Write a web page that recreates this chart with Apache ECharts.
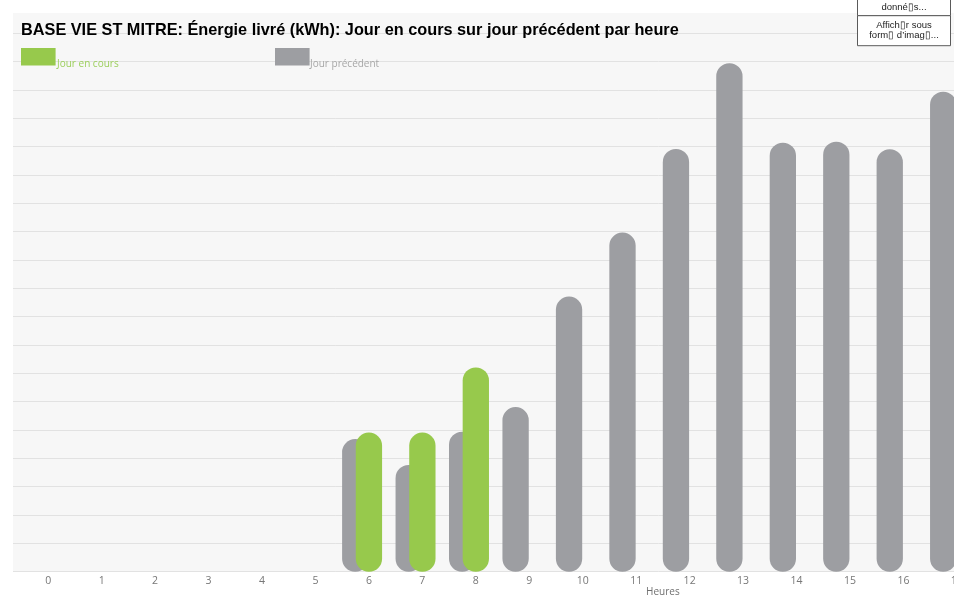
<!DOCTYPE html>
<html>
<head>
<meta charset="utf-8">
<script src="https://cdn.jsdelivr.net/npm/echarts@6/dist/echarts.min.js"></script>
<style>
  html, body { margin: 0; padding: 0; overflow: hidden; background: #fff; }
  #chart { width: 1320px; height: 596px; }
</style>
</head>
<body>
<div id="chart"></div>
<script>
// Hours of the day (x axis)
const hours = ['0','1','2','3','4','5','6','7','8','9','10','11','12','13','14','15','16','17','18','19','20','21','22','23'];

// Energy delivered per hour (kWh)
const jourPrecedent = [0, 0, 0, 0, 0, 0, 4.68, 3.77, 4.94, 5.81, 9.71, 11.97, 14.92, 17.95, 15.14, 15.18, 14.91, 16.94];
const jourEnCours   = [0, 0, 0, 0, 0, 0, 4.91, 4.91, 7.21];

const seriesNames = ['Jour en cours', 'Jour précédent'];
const titleText = 'BASE VIE ST MITRE: Énergie livré (kWh): Jour en cours sur jour précédent par heure';
const axisName = 'Heures';

const GREEN = '#97c94c';
const GREY = '#9d9ea2';
const Y_MAX = 19.72;

const chart = echarts.init(document.getElementById('chart'), null, { renderer: 'canvas' });

const barBase = {
  type: 'bar',
  xAxisIndex: 1,
  yAxisIndex: 1,
  barWidth: 26.3,
  barGap: '-48%',
  emphasis: { disabled: true },
  animation: false
};

chart.setOption({
  animation: false,
  backgroundColor: '#ffffff',
  title: {
    text: titleText,
    left: 21,
    top: 23,
    padding: 0,
    z: 20,
    textStyle: {
      fontFamily: 'Liberation Sans',
      fontWeight: 'bold',
      fontSize: 16.3,
      color: '#000000'
    }
  },
  grid: [
    // plotting background with the horizontal rules
    { left: 13, right: 15.7, top: 13, bottom: 24.3, outerBoundsMode: 'none', containLabel: false,
      show: true, backgroundColor: '#f7f7f7', borderWidth: 0 },
    // hourly bars
    { left: 21.5, right: 15.7, top: 13, bottom: 24.3, outerBoundsMode: 'none', containLabel: false }
  ],
  xAxis: [
    { gridIndex: 0, type: 'category', data: hours, show: false },
    {
      gridIndex: 1,
      type: 'category',
      data: hours,
      name: axisName,
      nameLocation: 'middle',
      nameGap: 15,
      nameMoveOverlap: false,
      nameTextStyle: { fontFamily: 'Open Sans', fontSize: 10, color: '#707070' },
      axisLine: { show: false },
      axisTick: { show: false },
      axisLabel: { margin: 4, fontFamily: 'Open Sans', fontSize: 10.5, color: '#777777', interval: 0 }
    }
  ],
  yAxis: [
    {
      gridIndex: 0,
      type: 'value',
      min: 0,
      max: Y_MAX,
      interval: 1,
      axisLine: { show: false },
      axisTick: { show: false },
      axisLabel: { show: false },
      splitLine: { show: true, showMaxLine: false, lineStyle: { color: '#e2e2e2', width: 1 } }
    },
    {
      gridIndex: 1,
      type: 'value',
      min: 0,
      max: Y_MAX,
      interval: 1,
      show: false,
      splitLine: { show: false }
    }
  ],
  series: [
    Object.assign({}, barBase, { name: seriesNames[1], data: jourPrecedent, itemStyle: { color: GREY, borderRadius: 13 } }),
    Object.assign({}, barBase, { name: seriesNames[0], data: jourEnCours, itemStyle: { color: GREEN, borderRadius: 13 } }),
    // empty slot that places the current day bar on the hour centre
    Object.assign({}, barBase, { name: 'slot', data: [], silent: true })
  ],
  graphic: [
    // legend
    { type: 'rect', z: 100, left: 21, top: 48, shape: { width: 34.6, height: 17.4 }, style: { fill: GREEN } },
    { type: 'text', z: 100, left: 57, top: 59.5, style: { text: seriesNames[0], fontFamily: 'Open Sans', fontSize: 10, fill: '#9ccf5c' } },
    { type: 'rect', z: 100, left: 275, top: 48, shape: { width: 34.6, height: 17.4 }, style: { fill: GREY } },
    { type: 'text', z: 100, left: 310, top: 59.5, style: { text: seriesNames[1], fontFamily: 'Open Sans', fontSize: 10, fill: '#a7a7a7' } },
    // toolbar buttons
    { type: 'rect', z: 100, shape: { x: 857.5, y: -16, width: 93, height: 31.7 }, style: { fill: '#ffffff', stroke: '#5a5a5a', lineWidth: 1 } },
    { type: 'text', z: 101, x: 904, y: 7, style: { text: 'donné\u25AFs...', align: 'center', verticalAlign: 'middle', fontFamily: 'Liberation Sans', fontSize: 9.5, fill: '#222' } },
    { type: 'rect', z: 100, shape: { x: 857.5, y: 15.7, width: 93, height: 30 }, style: { fill: '#ffffff', stroke: '#5a5a5a', lineWidth: 1 } },
    { type: 'text', z: 101, x: 904, y: 25, style: { text: 'Affich\u25AFr sous', align: 'center', verticalAlign: 'middle', fontFamily: 'Liberation Sans', fontSize: 9.5, fill: '#222' } },
    { type: 'text', z: 101, x: 904, y: 35.5, style: { text: 'form\u25AF d\u2019imag\u25AF...', align: 'center', verticalAlign: 'middle', fontFamily: 'Liberation Sans', fontSize: 9.5, fill: '#222' } }
  ]
});
</script>
</body>
</html>
